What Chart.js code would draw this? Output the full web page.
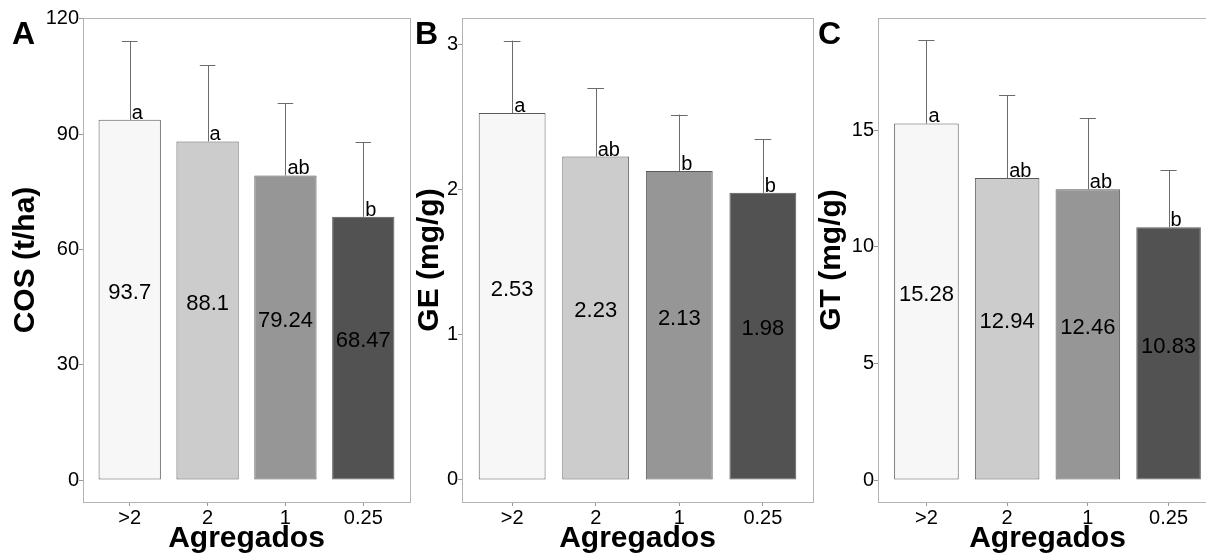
<!DOCTYPE html>
<html>
<head>
<meta charset="utf-8">
<script src="https://cdn.jsdelivr.net/npm/chart.js@4.4.1/dist/chart.umd.min.js"></script>
<style>
  html, body { margin: 0; padding: 0; background: #fff; overflow: hidden; width: 1206px; height: 554px; }
  canvas { position: absolute; top: 0; }
</style>
</head>
<body>
<canvas id="panelA" width="420" height="554" style="left:0px"></canvas>
<canvas id="panelB" width="420" height="554" style="left:405px"></canvas>
<canvas id="panelC" width="420" height="554" style="left:805px"></canvas>
<script>
// --- data ---
const categories = ['>2', '2', '1', '0.25'];
const barColors = ['#f7f7f7', '#cccccc', '#969696', '#525252'];

const cosValues = [93.7, 88.1, 79.24, 68.47];
const cosSd = [20.5, 19.8, 18.8, 19.4];
const cosLetters = ['a', 'a', 'ab', 'b'];
const cosTicks = [0, 30, 60, 90, 120];

const geValues = [2.53, 2.23, 2.13, 1.98];
const geSd = [0.50, 0.47, 0.39, 0.37];
const geLetters = ['a', 'ab', 'b', 'b'];
const geTicks = [0, 1, 2, 3];

const gtValues = [15.28, 12.94, 12.46, 10.83];
const gtSd = [3.58, 3.56, 3.04, 2.46];
const gtLetters = ['a', 'ab', 'ab', 'b'];
const gtTicks = [0, 5, 10, 15];

const FONT = "'Liberation Sans', Arial, sans-serif";

// draws box, error bars, letters, value labels and the panel tag
const decorPlugin = {
    id: 'decor',
    afterDatasetsDraw(chart, args, opts) {
        const {ctx, chartArea: a, scales: {x, y}} = chart;
        ctx.save();
        // panel border
        ctx.strokeStyle = '#b3b3b3';
        ctx.lineWidth = 1;
        ctx.strokeRect(Math.round(a.left) + 0.5, Math.round(a.top) + 0.5,
            Math.round(a.right - a.left), Math.round(a.bottom - a.top));

        opts.values.forEach((v, i) => {
            const cx = x.getPixelForValue(i + 1);
            const top = y.getPixelForValue(v + opts.sd[i]);
            const base = y.getPixelForValue(v);
            // upper whisker
            ctx.strokeStyle = '#6b6b6b';
            ctx.beginPath();
            ctx.moveTo(Math.round(cx) + 0.5, base);
            ctx.lineTo(Math.round(cx) + 0.5, top);
            ctx.moveTo(x.getPixelForValue(i + 0.9), Math.round(top) + 0.5);
            ctx.lineTo(x.getPixelForValue(i + 1.1), Math.round(top) + 0.5);
            ctx.stroke();
            // significance letter
            ctx.fillStyle = '#000';
            ctx.font = '20px ' + FONT;
            ctx.textAlign = 'left';
            ctx.textBaseline = 'alphabetic';
            ctx.fillText(opts.letters[i], cx + 2, base - 1);
            // value label at half height
            ctx.font = '22px ' + FONT;
            ctx.textAlign = 'center';
            ctx.fillText(String(v), cx, y.getPixelForValue(v / 2) - 1);
        });

        // panel tag
        ctx.font = 'bold 32px ' + FONT;
        ctx.textAlign = 'left';
        ctx.fillText(opts.tag, opts.tagX, 44);
        ctx.restore();
    }
};

function makePanel(id, cfg) {
    new Chart(document.getElementById(id), {
        type: 'bar',
        data: {
            datasets: [{
                data: cfg.values.map((v, i) => ({x: i + 1, y: v})),
                backgroundColor: barColors,
                borderColor: '#5a5a5a',
                borderWidth: 1,
                borderSkipped: false,
                barPercentage: 0.8,
                categoryPercentage: 1
            }]
        },
        options: {
            responsive: false,
            animation: false,
            devicePixelRatio: 1,
            layout: {padding: {top: 18, right: cfg.padRight, left: 0, bottom: 0}},
            plugins: {
                legend: {display: false},
                tooltip: {enabled: false},
                decor: {values: cfg.values, sd: cfg.sd, letters: cfg.letters, tag: cfg.tag, tagX: cfg.tagX}
            },
            scales: {
                x: {
                    type: 'linear',
                    min: 0.4,
                    max: 4.6,
                    offset: false,
                    afterBuildTicks: s => { s.ticks = categories.map((c, i) => ({value: i + 1})); },
                    afterFit: s => { s.height = 52; },
                    ticks: {
                        callback: v => categories[v - 1],
                        color: '#000',
                        font: {family: FONT, size: 20},
                        padding: 0,
                        maxRotation: 0
                    },
                    grid: {display: true, offset: false, drawOnChartArea: false, drawTicks: true, tickLength: 4, color: '#999'},
                    border: {display: false},
                    title: {
                        display: true,
                        text: 'Agregados',
                        color: '#000',
                        font: {family: FONT, size: 30, weight: 'bold', lineHeight: 1},
                        padding: 0
                    }
                },
                y: {
                    min: cfg.min,
                    max: cfg.max,
                    afterBuildTicks: s => { s.ticks = cfg.ticks.map(v => ({value: v})); },
                    afterFit: s => { s.width = cfg.axisWidth; },
                    ticks: {
                        color: '#000',
                        font: {family: FONT, size: 20},
                        padding: 0
                    },
                    grid: {display: true, drawOnChartArea: false, drawTicks: true, tickLength: 4, color: '#999'},
                    border: {display: false},
                    title: {
                        display: true,
                        text: cfg.title,
                        color: '#000',
                        font: {family: FONT, size: 30, weight: 'bold', lineHeight: 1},
                        padding: {top: cfg.titlePad}
                    }
                }
            }
        },
        plugins: [decorPlugin]
    });
}

makePanel('panelA', {
    values: cosValues, sd: cosSd, letters: cosLetters, ticks: cosTicks,
    min: -5.7, max: 120.2, title: 'COS (t/ha)', tag: 'A', tagX: 12,
    axisWidth: 83, padRight: 10, titlePad: 11
});
makePanel('panelB', {
    values: geValues, sd: geSd, letters: geLetters, ticks: geTicks,
    min: -0.152, max: 3.186, title: 'GE (mg/g)', tag: 'B', tagX: 10,
    axisWidth: 57, padRight: 12, titlePad: 10
});
makePanel('panelC', {
    values: gtValues, sd: gtSd, letters: gtLetters, ticks: gtTicks,
    min: -0.94, max: 19.8, title: 'GT (mg/g)', tag: 'C', tagX: 13,
    axisWidth: 73, padRight: 8, titlePad: 12
});
</script>
</body>
</html>
